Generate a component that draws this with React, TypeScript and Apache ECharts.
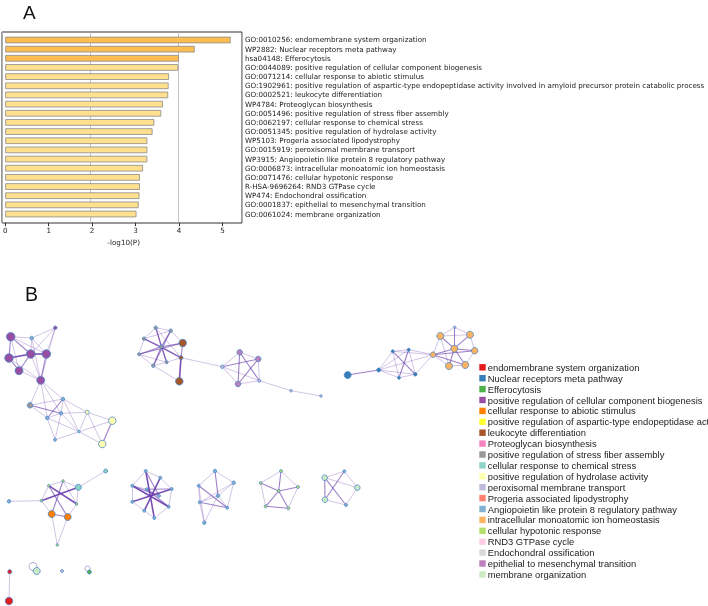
import React, { useEffect, useRef } from "react";
import * as echarts from "echarts";

// ---------- Panel A data ----------
const termLabels = [
  "GO:0010256: endomembrane system organization",
  "WP2882: Nuclear receptors meta pathway",
  "hsa04148: Efferocytosis",
  "GO:0044089: positive regulation of cellular component biogenesis",
  "GO:0071214: cellular response to abiotic stimulus",
  "GO:1902961: positive regulation of aspartic-type endopeptidase activity involved in amyloid precursor protein catabolic process",
  "GO:0002521: leukocyte differentiation",
  "WP4784: Proteoglycan biosynthesis",
  "GO:0051496: positive regulation of stress fiber assembly",
  "GO:0062197: cellular response to chemical stress",
  "GO:0051345: positive regulation of hydrolase activity",
  "WP5103: Progeria associated lipodystrophy",
  "GO:0015919: peroxisomal membrane transport",
  "WP3915: Angiopoietin like protein 8 regulatory pathway",
  "GO:0006873: intracellular monoatomic ion homeostasis",
  "GO:0071476: cellular hypotonic response",
  "R-HSA-9696264: RND3 GTPase cycle",
  "WP474: Endochondral ossification",
  "GO:0001837: epithelial to mesenchymal transition",
  "GO:0061024: membrane organization",
];
const logP = [5.19, 4.36, 4.0, 3.98, 3.77, 3.76, 3.75, 3.63, 3.59, 3.43, 3.39, 3.27, 3.27, 3.27, 3.17, 3.1, 3.1, 3.09, 3.07, 3.02];
const strongCount = 3;
const xTicks = [0, 1, 2, 3, 4, 5];
const xMax = 5.45;

// ---------- Panel B data ----------
const categoryNames = [
  "endomembrane system organization",
  "Nuclear receptors meta pathway",
  "Efferocytosis",
  "positive regulation of cellular component biogenesis",
  "cellular response to abiotic stimulus",
  "positive regulation of aspartic-type endopeptidase activity involved in amyloid precursor protein catabolic process",
  "leukocyte differentiation",
  "Proteoglycan biosynthesis",
  "positive regulation of stress fiber assembly",
  "cellular response to chemical stress",
  "positive regulation of hydrolase activity",
  "peroxisomal membrane transport",
  "Progeria associated lipodystrophy",
  "Angiopoietin like protein 8 regulatory pathway",
  "intracellular monoatomic ion homeostasis",
  "cellular hypotonic response",
  "RND3 GTPase cycle",
  "Endochondral ossification",
  "epithelial to mesenchymal transition",
  "membrane organization",
];
const categoryColors = [
  "#E41A1C", "#377EB8", "#4DAF4A", "#984EA3", "#FF7F00", "#FFFF33", "#A65628", "#F781BF", "#999999", "#8DD3C7",
  "#FFFFB3", "#BEBADA", "#FB8072", "#80B1D3", "#FDB462", "#B3DE69", "#FCCDE5", "#D9D9D9", "#BC80BD", "#CCEBC5",
];

// [id, layoutX, layoutY, size, category]
const nodes: [string, number, number, number, number][] = [
  ["a", 10.7, 336.7, 8.5, 3], ["b", 31.7, 338, 3.5, 13], ["c", 55.3, 327.7, 3.5, 3], ["d", 9, 358, 8.5, 3],
  ["e", 30.7, 354, 8.5, 3], ["f", 46.3, 354, 8.5, 3], ["g", 19, 370.7, 8, 3], ["h", 40.7, 380.3, 8, 3],
  ["i", 30, 405.3, 5.5, 8], ["j", 63, 399, 3.5, 13], ["k", 47.3, 418, 3.5, 13], ["l", 61, 413.3, 3.5, 13],
  ["m", 87.3, 412.3, 4, 10], ["n", 112.3, 420.7, 7.5, 10], ["o", 79, 431.7, 2.5, 9], ["p", 55, 439.7, 3, 13],
  ["q", 102.3, 444, 7.5, 10],
  ["A", 155.7, 327.7, 3.5, 8], ["B", 170.7, 330.7, 3.5, 8], ["C", 144, 338.7, 3.5, 8], ["D", 182.7, 343, 7.5, 6],
  ["E", 161.3, 346.7, 3.5, 8], ["F", 139, 354.3, 3, 8], ["G", 181, 357.7, 4, 6], ["H", 166.7, 362.3, 3, 8],
  ["I", 153.3, 365.7, 3.5, 8], ["J", 179.3, 381.3, 7.5, 6],
  ["K", 222.3, 366.7, 3.5, 11], ["L", 239.7, 352.3, 5.5, 18], ["M", 258.3, 359, 5.5, 18], ["N", 238, 384, 5.5, 18],
  ["O", 259.3, 380.7, 3, 11], ["P", 291, 390.7, 2.5, 11], ["Q", 321, 396, 2.5, 11],
  ["R", 347.7, 375, 7, 1], ["S", 378.7, 370, 4, 1], ["T", 392.7, 351.3, 3, 1], ["U", 408.7, 349.7, 3, 1],
  ["V", 399, 377.7, 3, 1], ["W", 415.3, 374.3, 3.5, 1], ["X", 433, 354.7, 5.5, 14], ["Y", 440.3, 336, 7, 14],
  ["Z", 454.7, 327.3, 2.5, 11], ["AA", 470, 334.7, 7, 14], ["AB", 454.3, 348.7, 7, 14], ["AC", 474.7, 350.7, 6.5, 14],
  ["AD", 449, 366, 7, 14], ["AE", 465.3, 365, 7, 14],
  ["a1", 105.7, 471, 4, 9], ["a2", 78.3, 487.3, 6, 9], ["a3", 48.7, 485.7, 2.5, 15], ["a4", 63, 481, 2.5, 15],
  ["a5", 9, 501.3, 3.5, 13], ["a6", 41.3, 500.7, 2.5, 15], ["a7", 76.7, 504, 2.5, 15], ["a8", 51.7, 514, 7, 4],
  ["a9", 67.7, 517, 7, 4], ["a10", 57.3, 545, 2.5, 15],
  ["b1", 145.7, 471, 3, 13], ["b2", 160.3, 477.7, 3, 13], ["b3", 132.3, 485.7, 3, 13], ["b4", 171.7, 489, 3, 13],
  ["b5", 146.7, 489.3, 3, 13], ["b6", 159, 495.7, 3, 13], ["b7", 132.3, 501.7, 3, 13], ["b8", 168.7, 506.7, 3, 13],
  ["b9", 144.3, 510.7, 3, 13], ["b10", 154.3, 518, 3, 13],
  ["c1", 215, 471, 3.5, 13], ["c2", 233.7, 482.7, 3.5, 13], ["c3", 198.7, 485.7, 3, 13], ["c4", 218, 495.7, 3.5, 13],
  ["c5", 199.7, 502.3, 3, 13], ["c6", 227.3, 507.7, 3, 13], ["c7", 204.3, 522.7, 3.5, 13],
  ["d1", 281, 471, 3, 15], ["d2", 260.7, 483, 3, 15], ["d3", 298, 487, 3, 15], ["d4", 278.7, 491, 3, 15],
  ["d5", 265.7, 506.3, 3, 15], ["d6", 288.3, 508.3, 3, 15],
  ["e1", 324.7, 477.7, 5.5, 19], ["e2", 344.3, 471.3, 3, 13], ["e3", 357.3, 487.7, 5.5, 19], ["e4", 325, 499.7, 5.5, 19],
  ["e5", 346, 505, 3, 13],
  ["r1", 9.7, 571.7, 4, 0], ["r2", 9, 601, 7.5, 0], ["mem", 36.7, 571, 7, 19], ["pt", 62, 571, 3, 11], ["eff", 89.3, 572, 4, 2],
];

// [source, target, strength 1..3]
const links: [string, string, number][] = [
  ["a", "b", 1], ["a", "d", 2], ["a", "e", 2], ["a", "f", 1], ["a", "g", 1], ["b", "c", 1], ["b", "e", 1], ["b", "f", 1],
  ["c", "f", 1], ["c", "e", 1], ["c", "h", 1], ["d", "e", 3], ["d", "g", 2], ["e", "f", 3], ["e", "g", 2], ["e", "h", 1],
  ["f", "h", 2], ["g", "h", 1], ["d", "h", 1], ["b", "h", 1],
  ["h", "i", 1], ["h", "j", 1], ["h", "k", 1], ["h", "l", 1],
  ["i", "j", 1], ["i", "l", 2], ["i", "k", 1], ["j", "k", 2], ["j", "l", 1], ["j", "m", 1], ["j", "o", 1], ["k", "l", 1],
  ["k", "p", 1], ["k", "o", 1], ["l", "m", 1], ["l", "o", 1], ["m", "n", 1], ["m", "o", 1], ["m", "q", 1], ["n", "o", 1],
  ["n", "q", 2], ["o", "q", 1], ["o", "p", 1], ["l", "p", 1],
  ["E", "A", 2], ["E", "B", 2], ["E", "C", 2], ["E", "D", 2], ["E", "F", 2], ["E", "G", 2], ["E", "H", 2], ["E", "I", 2],
  ["A", "B", 1], ["B", "D", 1], ["D", "G", 2], ["G", "H", 1], ["H", "I", 1], ["I", "F", 1], ["F", "C", 1], ["C", "A", 1],
  ["A", "H", 2], ["B", "I", 2], ["C", "G", 2], ["F", "D", 2], ["A", "G", 1], ["C", "B", 1], ["F", "H", 1],
  ["G", "J", 3], ["I", "J", 1], ["G", "K", 1],
  ["K", "L", 1], ["K", "M", 2], ["K", "N", 1], ["L", "M", 1], ["L", "O", 2], ["L", "N", 2], ["M", "N", 2], ["M", "O", 1],
  ["N", "O", 1], ["K", "O", 1], ["O", "P", 1], ["P", "Q", 1],
  ["R", "S", 2], ["S", "T", 1], ["S", "U", 1], ["S", "V", 1], ["S", "W", 1], ["T", "U", 1], ["T", "W", 2], ["U", "V", 2],
  ["T", "V", 1], ["V", "W", 1], ["U", "W", 1], ["U", "X", 1], ["W", "X", 1], ["T", "X", 1], ["S", "X", 1],
  ["X", "Y", 1], ["X", "AB", 2], ["X", "AD", 1], ["X", "AE", 2], ["X", "AC", 2], ["Y", "Z", 1], ["Y", "AB", 2],
  ["Y", "AA", 1], ["Z", "AB", 2], ["Z", "AA", 1], ["AA", "AB", 2], ["AA", "AC", 1], ["AB", "AC", 2], ["AB", "AD", 2],
  ["AB", "AE", 2], ["AC", "AE", 1], ["AD", "AE", 1], ["Y", "AD", 1],
  ["a3", "a7", 3], ["a6", "a2", 3], ["a4", "a8", 2], ["a3", "a9", 2], ["a4", "a7", 1], ["a3", "a4", 1], ["a4", "a2", 1],
  ["a2", "a7", 1], ["a7", "a9", 1], ["a9", "a8", 2], ["a8", "a6", 1], ["a6", "a3", 1], ["a5", "a6", 1], ["a1", "a2", 1],
  ["a8", "a10", 1], ["a9", "a10", 1],
  ["b1", "b10", 3], ["b3", "b8", 3], ["b7", "b4", 3], ["b2", "b9", 3], ["b5", "b8", 2], ["b6", "b3", 2], ["b1", "b6", 2],
  ["b5", "b4", 2], ["b1", "b2", 1], ["b2", "b4", 1], ["b4", "b8", 1], ["b8", "b10", 1], ["b10", "b9", 1], ["b9", "b7", 1],
  ["b7", "b3", 1], ["b3", "b1", 1], ["b3", "b5", 1], ["b5", "b6", 1],
  ["c1", "c2", 1], ["c1", "c3", 1], ["c1", "c4", 2], ["c3", "c5", 1], ["c3", "c6", 2], ["c5", "c6", 2], ["c5", "c4", 1],
  ["c2", "c6", 1], ["c4", "c6", 1], ["c5", "c7", 1], ["c7", "c4", 1], ["c3", "c7", 1], ["c2", "c5", 1], ["c2", "c4", 1],
  ["d1", "d2", 1], ["d2", "d5", 1], ["d5", "d6", 2], ["d6", "d3", 1], ["d3", "d1", 1], ["d4", "d1", 2], ["d4", "d2", 2],
  ["d4", "d3", 2], ["d4", "d5", 2], ["d4", "d6", 2],
  ["e1", "e2", 1], ["e2", "e3", 1], ["e3", "e5", 1], ["e5", "e4", 1], ["e4", "e1", 2], ["e1", "e5", 2], ["e2", "e4", 2],
  ["e3", "e1", 1],
  ["r1", "r2", 1],
];

// self-loops: [layoutX, layoutY, radius]
const loops: [number, number, number][] = [
  [33, 566.5, 4],
  [87.6, 568.6, 2.6],
];

const linkWidth = [0, 0.8, 1.1, 1.6];
const linkOpacity = [0, 0.38, 0.65, 0.9];

// legend placement
const legendLeft = 479.3;
const legendTop = 367.3;
const legendStep = 10.9;

export default function App() {
  const ref = useRef<HTMLDivElement>(null);
  useEffect(() => {
    if (!ref.current) return;
    const chart = echarts.init(ref.current, undefined, { renderer: "svg" });

    const legendGraphics: any[] = [];
    categoryNames.forEach((name, i) => {
      const cy = legendTop + i * legendStep;
      legendGraphics.push({
        type: "rect",
        silent: true,
        shape: { x: legendLeft, y: cy - 3.2, width: 6.4, height: 6.4 },
        style: { fill: categoryColors[i] },
      });
      legendGraphics.push({
        type: "text",
        silent: true,
        x: legendLeft + 8.4,
        y: cy,
        style: { text: name, fontSize: 9.4, fontFamily: "Liberation Sans", fill: "#222", verticalAlign: "middle" },
      });
    });

    const option: any = {
      animation: false,
      textStyle: { fontFamily: "DejaVu Sans" },
      graphic: [
        { type: "text", x: 23, y: 12, style: { text: "A", fontSize: 19, fontFamily: "Liberation Sans", fill: "#111", verticalAlign: "middle" } },
        { type: "text", x: 25, y: 294, style: { text: "B", fontSize: 19.5, fontFamily: "Liberation Sans", fill: "#111", verticalAlign: "middle" } },
        ...legendGraphics,
      ],
      grid: [
        { left: 2, top: 35.4, width: 240, height: 183.2 },
        { left: 2, top: 32, width: 240, height: 191, show: true, borderColor: "#333", borderWidth: 1, backgroundColor: "transparent" },
        { left: 0, top: 0, width: 708, height: 606 },
      ],
      xAxis: [
        {
          gridIndex: 0, type: "value", min: 0, max: xMax, interval: 1, offset: 4.1,
          axisLine: { show: false }, splitLine: { show: false },
          axisTick: { show: true, customValues: xTicks, length: 3.5, lineStyle: { color: "#333" } },
          axisLabel: { customValues: xTicks, fontSize: 7.2, color: "#222", margin: 4, fontFamily: "DejaVu Sans" },
          name: "-log10(P)", nameLocation: "middle", nameGap: 16,
          nameTextStyle: { fontSize: 7.2, color: "#222", fontFamily: "DejaVu Sans" },
        },
        {
          gridIndex: 1, type: "value", min: 0, max: xMax, interval: 2,
          axisLine: { show: false }, axisTick: { show: false }, axisLabel: { show: false },
          splitLine: { show: true, lineStyle: { color: "#b5b5b5", width: 0.8 } },
        },
        { gridIndex: 2, type: "value", min: 0, max: 708, show: false },
      ],
      yAxis: [
        {
          gridIndex: 0, type: "category", data: termLabels, inverse: true, position: "right",
          axisLine: { show: false }, axisTick: { show: false },
          axisLabel: { fontSize: 7.15, color: "#222", margin: 3, fontFamily: "DejaVu Sans" },
        },
        { gridIndex: 1, type: "value", show: false },
        { gridIndex: 2, type: "value", min: 0, max: 606, inverse: true, show: false },
      ],
      series: [
        {
          type: "bar",
          xAxisIndex: 0,
          yAxisIndex: 0,
          barWidth: 6.6,
          data: logP.map((v, i) => ({ value: v, itemStyle: { color: i < strongCount ? "#FDBD50" : "#FFE08E" } })),
          itemStyle: { borderColor: "#8a8a8a", borderWidth: 0.8 },
        },
        {
          type: "scatter",
          xAxisIndex: 2,
          yAxisIndex: 2,
          z: 1,
          silent: true,
          symbol: "circle",
          data: loops.map(([x, y, r]) => ({ value: [x, y], symbolSize: r * 2 })),
          itemStyle: { color: "transparent", borderColor: "#9a90c4", borderWidth: 1 },
        },
        {
          type: "graph",
          coordinateSystem: "cartesian2d",
          xAxisIndex: 2,
          yAxisIndex: 2,
          z: 2,
          categories: categoryNames.map((n, i) => ({ name: n, itemStyle: { color: categoryColors[i] } })),
          data: nodes.map(([id, x, y, s, c]) => ({ name: id, value: [x, y], symbolSize: s, category: c })),
          links: links.map(([s, t, w]) => ({
            source: s,
            target: t,
            lineStyle: { width: linkWidth[w], opacity: linkOpacity[w] },
          })),
          itemStyle: { borderColor: "#4a86c5", borderWidth: 0.8 },
          lineStyle: { color: "#6a3dac", curveness: 0 },
          label: { show: false },
          emphasis: { disabled: true },
        },
      ],
    };
    chart.setOption(option);
    return () => chart.dispose();
  }, []);
  return <div ref={ref} style={{ position: "fixed", left: 0, top: 0, width: 708, height: 606 }} />;
}
